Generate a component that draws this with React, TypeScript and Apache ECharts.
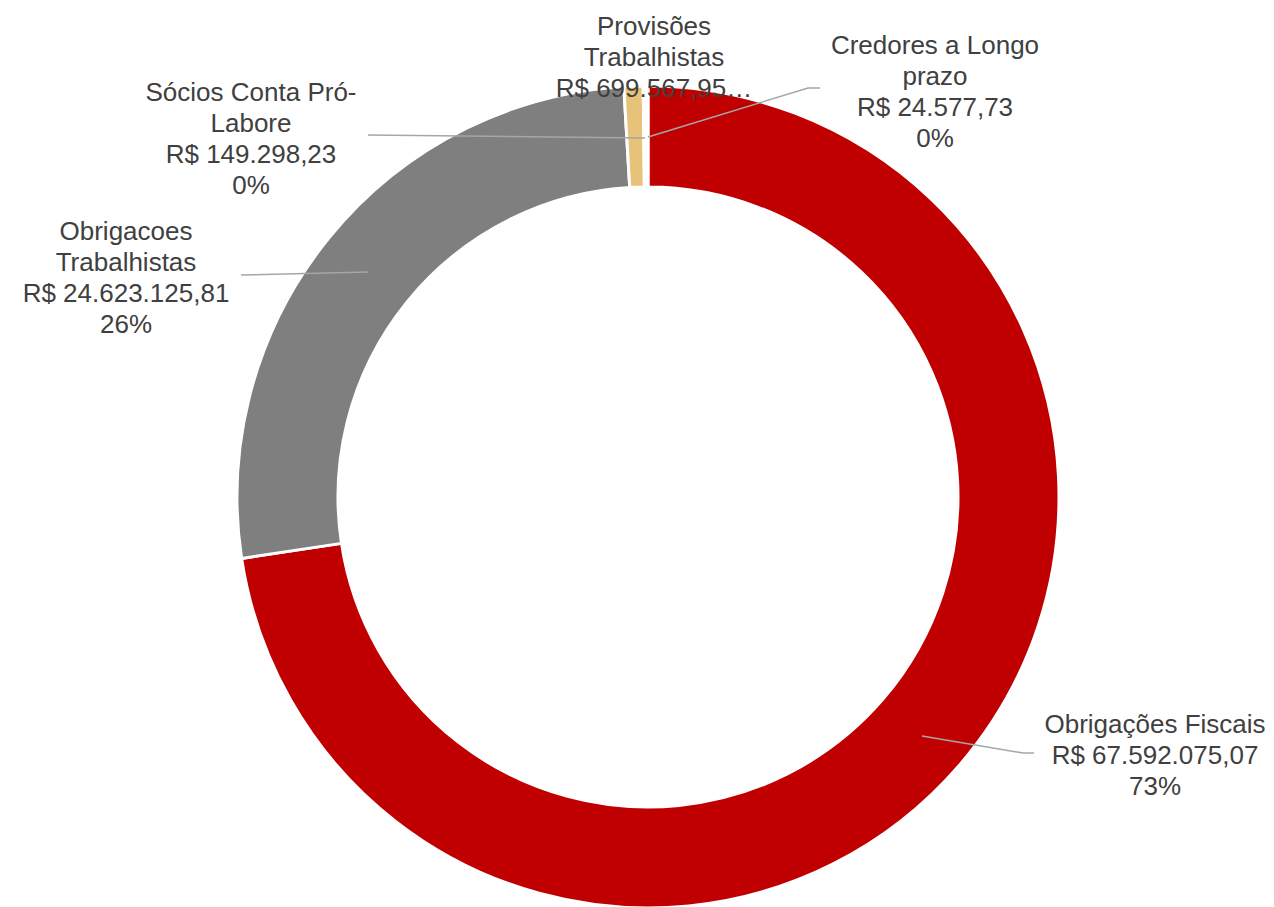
import React, { useEffect, useRef } from "react";
import * as echarts from "echarts";

const categories = [
  "Obrigações Fiscais",
  "Obrigacoes Trabalhistas",
  "Provisões Trabalhistas",
  "Sócios Conta Pró-Labore",
  "Credores a Longo prazo",
];
const wrappedNames = [
  "Obrigações Fiscais",
  "Obrigacoes\nTrabalhistas",
  "Provisões\nTrabalhistas",
  "Sócios Conta Pró-\nLabore",
  "Credores a Longo\nprazo",
];
const values = [67592075.07, 24623125.81, 699567.95, 149298.23, 24577.73];
const colors = ["#C00000", "#7F7F7F", "#E6C379", "#FFFFFF", "#FFFFFF"];
const truncatedLabel = [false, false, true, false, false];

// label block centres and leader lines (layout)
const labelPos = [
  [1155, 755],
  [126, 277],
  [654, 57],
  [251, 138],
  [935, 91],
];
const leaderLines: (number[][] | null)[] = [
  [[922, 736], [1023, 753], [1034, 753]],
  [[368, 272], [241, 275]],
  null,
  [[645, 138], [368, 135]],
  [[648, 137], [808, 88], [820, 88]],
];

function fmtBRL(v: number): string {
  const fixed = v.toFixed(2);
  const [intPart, dec] = fixed.split(".");
  const withDots = intPart.replace(/\B(?=(\d{3})+(?!\d))/g, ".");
  return "R$ " + withDots + "," + dec;
}

const total = values.reduce((a, b) => a + b, 0);

export default function App() {
  const ref = useRef<HTMLDivElement>(null);
  useEffect(() => {
    if (!ref.current) return;
    const chart = echarts.init(ref.current, undefined, { renderer: "svg" });
    const data = categories.map((name, i) => ({
      name,
      value: values[i],
      itemStyle: { color: colors[i] },
    }));
    const guides = leaderLines
      .filter((pts) => pts !== null)
      .map((pts) => ({
        type: "polyline",
        z: 100,
        silent: true,
        shape: { points: pts as number[][] },
        style: { stroke: "#A6A6A6", lineWidth: 1.5, fill: null },
      }));
    chart.setOption({
      animation: false,
      backgroundColor: "#FFFFFF",
      graphic: { elements: guides },
      series: [
        {
          type: "pie",
          center: [648, 497],
          radius: [310, 411],
          startAngle: 90,
          clockwise: true,
          avoidLabelOverlap: false,
          itemStyle: { borderColor: "#FFFFFF", borderWidth: 3 },
          emphasis: { disabled: true },
          label: {
            show: true,
            position: "outside",
            fontFamily: "Liberation Sans, Arial, sans-serif",
            fontSize: 26,
            lineHeight: 31,
            color: "#404040",
            align: "center",
            overflow: "none",
            formatter: (p: any) => {
              const i = p.dataIndex;
              const name = wrappedNames[i];
              const money = fmtBRL(values[i]);
              if (truncatedLabel[i]) return name + "\n" + money + "…";
              const pct = Math.round((values[i] / total) * 100) + "%";
              return name + "\n" + money + "\n" + pct;
            },
          },
          labelLine: { show: false },
          labelLayout: (params: any) => {
            const i = params.dataIndex;
            return {
              x: labelPos[i][0],
              y: labelPos[i][1],
              align: "center",
              verticalAlign: "middle",
            };
          },
          data,
        },
      ],
    });
    return () => chart.dispose();
  }, []);
  return (
    <div
      ref={ref}
      style={{ position: "absolute", left: 0, top: 0, width: 1274, height: 907 }}
    />
  );
}
